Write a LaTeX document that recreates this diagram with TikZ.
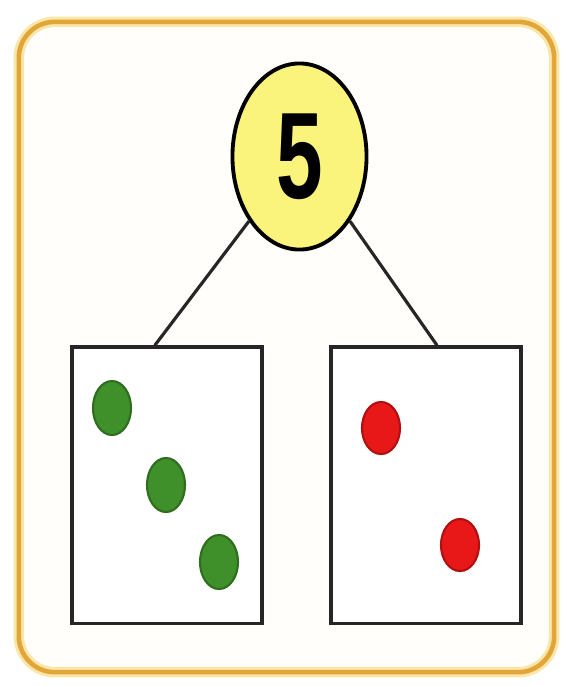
\documentclass[tikz,border=0pt]{standalone}
\usepackage{fontspec}
\newfontfamily\numfont{Liberation Sans}
\usetikzlibrary{shapes.geometric,calc}
\definecolor{frameor}{HTML}{E2A53A}
\definecolor{frameglow}{HTML}{F8E7A8}
\definecolor{bubble}{HTML}{FAF37C}
\definecolor{greendot}{HTML}{3F8F2A}
\definecolor{greenedge}{HTML}{2E6E1E}
\definecolor{reddot}{HTML}{E81818}
\definecolor{rededge}{HTML}{B01010}
\definecolor{paper}{HTML}{FFFEFA}
\tikzset{
  partbox/.style={draw=black!85, line width=0.9pt, fill=white, minimum width=1.9cm, minimum height=2.76cm, inner sep=0pt},
  gdot/.style={ellipse, fill=greendot, draw=greenedge, line width=0.6pt, minimum width=0.38cm, minimum height=0.54cm, inner sep=0pt},
  rdot/.style={ellipse, fill=reddot, draw=rededge, line width=0.6pt, minimum width=0.38cm, minimum height=0.52cm, inner sep=0pt},
  link/.style={black!85, line width=0.9pt}
}
\begin{document}
\begin{tikzpicture}[x=0.01cm,y=-0.01cm]
\useasboundingbox (0,0) rectangle (569,687);
\fill[white] (0,0) rectangle (569,687);
% frame
\node[draw=frameglow, line width=3pt, rounded corners=0.36cm, minimum width=5.35cm, minimum height=6.5cm, fill=paper] (glow) at (286.5,347) {};
\node[draw=frameor, line width=1.3pt, rounded corners=0.36cm, minimum width=5.35cm, minimum height=6.5cm] (frame) at (286.5,347) {};
% whole
\node[ellipse, draw=black, line width=1.1pt, fill=bubble, minimum width=1.34cm, minimum height=1.86cm, inner sep=0pt] (whole) at (299.5,156.5) {\numfont\bfseries\fontsize{35}{35}\selectfont\scalebox{0.68}[1]{5}};
% parts
\node[partbox] (lb) at (167,485) {};
\node[partbox] (rb) at (426,485) {};
% connectors
\draw[link] (whole.232) -- ($(lb.north west)!0.437!(lb.north east)$);
\draw[link] (whole.308) -- ($(rb.north west)!0.557!(rb.north east)$);
% dots
\node[gdot] (g1) at (112,408) {};
\node[gdot] (g2) at (166,485) {};
\node[gdot] (g3) at (219,562) {};
\node[rdot] (r1) at (381,428) {};
\node[rdot] (r2) at (460,545) {};
\end{tikzpicture}
\end{document}
